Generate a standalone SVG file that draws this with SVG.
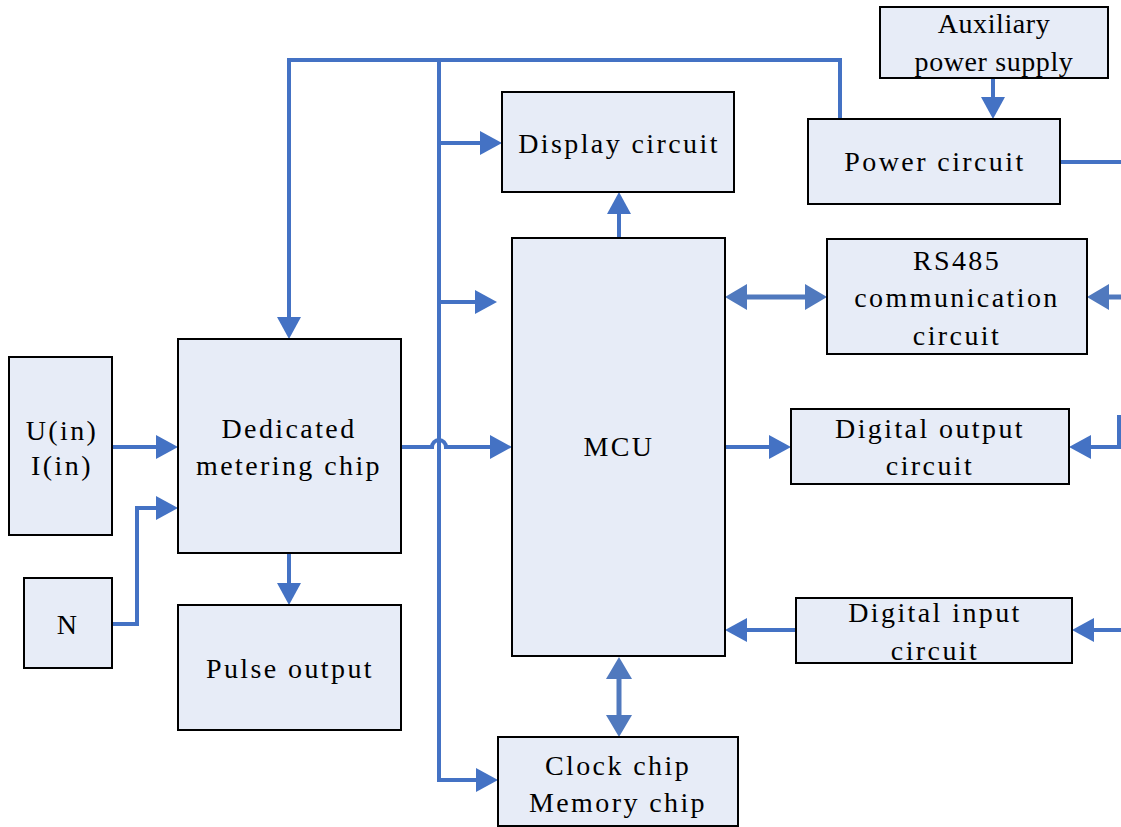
<svg xmlns="http://www.w3.org/2000/svg" width="1121" height="827" viewBox="0 0 1121 827">
  <defs>
    <style>
      .box { fill: #E7ECF7; stroke: #000; stroke-width: 2; }
      .lbl { font-family: "Liberation Serif", "Times New Roman", serif; font-size: 28px; letter-spacing: 2.4px; text-anchor: middle; fill: #000; }
      .tight { letter-spacing: 0.6px; }
      .wire { fill: none; stroke: #4472C4; stroke-width: 4; }
      .wire2 { fill: none; stroke: #5079BE; stroke-width: 5; }
      .arr { marker-end: url(#head); }
      .arr2 { marker-end: url(#head2); }
      .dbl { marker-start: url(#head2); marker-end: url(#head2); }
    </style>
    <marker id="head" markerUnits="userSpaceOnUse" markerWidth="22" markerHeight="24" refX="0" refY="12" orient="auto-start-reverse">
      <path d="M0,0 L22,12 L0,24 Z" fill="#4472C4"/>
    </marker>
    <marker id="head2" markerUnits="userSpaceOnUse" markerWidth="22" markerHeight="26" refX="0" refY="13" orient="auto-start-reverse">
      <path d="M0,0 L22,13 L0,26 Z" fill="#5079BE"/>
    </marker>
  </defs>

  <rect width="1121" height="827" fill="#fff"/>

  <!-- connectors -->
  <g id="connectors">
    <!-- top supply bus -->
    <path class="wire" d="M840,119 V60 H289 V317" marker-end="url(#head)"/>
    <path class="wire" d="M439,60 V780 H476" marker-end="url(#head)"/>
    <path class="wire arr" d="M439,143 H480"/>
    <path class="wire arr" d="M439,302 H475"/>
    <!-- metering chip to MCU, hopping over the bus -->
    <path class="wire arr" d="M401,447 H432 A7,7 0 0 1 446,447 H490"/>
    <path class="wire arr" d="M289,553 V583"/>
    <!-- inputs -->
    <path class="wire arr" d="M112,447 H156"/>
    <path class="wire arr" d="M112,624 H137 V508 H156"/>
    <!-- MCU links -->
    <path class="wire arr" d="M619,238 V214"/>
    <path class="wire2 dbl" d="M747,297 H805"/>
    <path class="wire arr" d="M725,447 H769"/>
    <path class="wire arr" d="M796,630 H747"/>
    <path class="wire2 dbl" d="M619,679 V715"/>
    <!-- power -->
    <path class="wire arr" d="M993,78 V97"/>
    <path class="wire" d="M1060,162 H1121"/>
    <!-- right-side feeds -->
    <path class="wire2 arr2" d="M1121,297 H1109"/>
    <path class="wire" d="M1119,415 V447 H1091" marker-end="url(#head)"/>
    <path class="wire arr" d="M1121,630 H1094"/>
  </g>

  <g id="aux-power">
    <rect class="box" x="880" y="7" width="228" height="71"/>
    <text class="lbl tight" x="994" y="33">Auxiliary</text>
    <text class="lbl tight" x="994" y="71">power supply</text>
  </g>
  <g id="power-circuit">
    <rect class="box" x="808" y="119" width="252" height="85"/>
    <text class="lbl" x="935" y="171">Power circuit</text>
  </g>
  <g id="display-circuit">
    <rect class="box" x="502" y="92" width="232" height="100"/>
    <text class="lbl" x="619" y="153">Display circuit</text>
  </g>
  <g id="mcu">
    <rect class="box" x="512" y="238" width="213" height="418"/>
    <text class="lbl" x="619" y="456">MCU</text>
  </g>
  <g id="rs485">
    <rect class="box" x="827" y="239" width="260" height="115"/>
    <text class="lbl" x="957" y="270">RS485</text>
    <text class="lbl" x="957" y="307">communication</text>
    <text class="lbl" x="957" y="345">circuit</text>
  </g>
  <g id="digital-output">
    <rect class="box" x="791" y="409" width="278" height="75"/>
    <text class="lbl" x="930" y="438">Digital output</text>
    <text class="lbl" x="930" y="475">circuit</text>
  </g>
  <g id="digital-input">
    <rect class="box" x="796" y="598" width="276" height="65"/>
    <text class="lbl" x="935" y="622">Digital input</text>
    <text class="lbl" x="935" y="660">circuit</text>
  </g>
  <g id="clock-memory">
    <rect class="box" x="498" y="737" width="240" height="89"/>
    <text class="lbl" x="618" y="775">Clock chip</text>
    <text class="lbl" x="618" y="812">Memory chip</text>
  </g>
  <g id="metering-chip">
    <rect class="box" x="178" y="339" width="223" height="214"/>
    <text class="lbl" x="289" y="438">Dedicated</text>
    <text class="lbl" x="289" y="475">metering chip</text>
  </g>
  <g id="pulse-output">
    <rect class="box" x="178" y="605" width="223" height="125"/>
    <text class="lbl" x="290" y="678">Pulse output</text>
  </g>
  <g id="ui-input">
    <rect class="box" x="9" y="357" width="103" height="178"/>
    <text class="lbl" x="62" y="440">U(in)</text>
    <text class="lbl" x="62" y="475">I(in)</text>
  </g>
  <g id="neutral">
    <rect class="box" x="24" y="578" width="88" height="90"/>
    <text class="lbl" x="68" y="634">N</text>
  </g>
</svg>
